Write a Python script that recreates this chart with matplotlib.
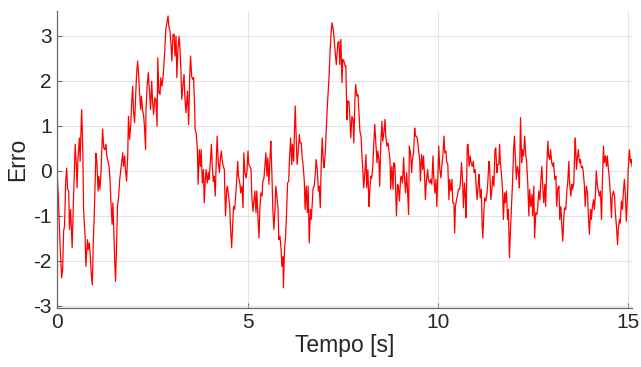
import matplotlib
matplotlib.use('Agg')
import matplotlib.pyplot as plt

# time [s] and error values
tempo = [
    0.00, 0.026, 0.07, 0.114, 0.14, 0.166, 0.19, 0.22, 0.245, 0.27, 0.30, 0.32, 0.35, 0.37, 0.39,
    0.42, 0.45, 0.47, 0.50, 0.52, 0.54, 0.58, 0.60, 0.62, 0.64, 0.67, 0.69, 0.73, 0.75, 0.79,
    0.81, 0.84, 0.87, 0.89, 0.92, 0.945, 0.97, 1.00, 1.015, 1.04, 1.07, 1.09, 1.12, 1.15, 1.17,
    1.19, 1.22, 1.25, 1.28, 1.30, 1.33, 1.36, 1.38, 1.41, 1.44, 1.46, 1.49, 1.51, 1.53, 1.56,
    1.58, 1.61, 1.64, 1.66, 1.69, 1.72, 1.74, 1.77, 1.79, 1.82, 1.85, 1.87, 1.90, 1.93, 1.95,
    1.98, 2.00, 2.03, 2.06, 2.08, 2.11, 2.14, 2.16, 2.19, 2.21, 2.24, 2.27, 2.29, 2.32,
    2.33, 2.36, 2.39, 2.43, 2.45, 2.48, 2.50, 2.53, 2.56, 2.59, 2.62, 2.64, 2.67, 2.70, 2.72,
    2.75, 2.78, 2.80, 2.83, 2.85, 2.88, 2.91, 2.93, 2.96, 2.99, 3.01, 3.04, 3.07, 3.09, 3.12,
    3.14, 3.17, 3.20, 3.22, 3.25, 3.27, 3.30, 3.33, 3.35, 3.38, 3.41, 3.42, 3.45, 3.48, 3.50,
    3.53, 3.56, 3.58, 3.61, 3.62, 3.65, 3.68, 3.70, 3.73, 3.76, 3.78, 3.81, 3.84, 3.86, 3.89,
    3.91, 3.94, 3.97, 3.99, 4.02, 4.05, 4.07, 4.10, 4.12, 4.15, 4.18, 4.20, 4.23, 4.26, 4.28,
    4.31, 4.33, 4.36, 4.39, 4.40, 4.42, 4.45, 4.47, 4.50, 4.53, 4.55, 4.58, 4.61, 4.63, 4.66,
    4.68, 4.71, 4.74, 4.76,
    4.80, 4.82, 4.85, 4.88, 4.90, 4.93, 4.96, 4.98, 5.01, 5.03, 5.06, 5.09, 5.11, 5.14, 5.17,
    5.19, 5.22, 5.24, 5.27, 5.30, 5.32, 5.35, 5.38, 5.40, 5.43, 5.45, 5.48, 5.51, 5.53, 5.56,
    5.59, 5.61, 5.64, 5.66, 5.69, 5.72, 5.74, 5.77, 5.80, 5.82, 5.85, 5.88, 5.90, 5.93, 5.94,
    5.97, 6.00, 6.02, 6.05, 6.08, 6.10, 6.13, 6.16, 6.18, 6.21, 6.23, 6.25, 6.28, 6.30, 6.33,
    6.36, 6.38, 6.41, 6.43, 6.46, 6.49, 6.51, 6.54, 6.57, 6.59, 6.62, 6.65, 6.67, 6.70, 6.72,
    6.75, 6.78, 6.80, 6.83, 6.86, 6.88, 6.91, 6.93, 6.96, 6.99, 7.01, 7.04, 7.07, 7.09, 7.12,
    7.14, 7.17, 7.20, 7.22, 7.25, 7.28, 7.30, 7.33,
    7.37, 7.40, 7.42, 7.45, 7.48, 7.50, 7.53, 7.56, 7.58, 7.61, 7.63, 7.66, 7.69, 7.71, 7.74,
    7.77, 7.79, 7.82, 7.84, 7.87, 7.90, 7.92, 7.95, 7.98, 8.00, 8.03, 8.05, 8.08, 8.11, 8.13,
    8.16, 8.19, 8.21, 8.24, 8.26, 8.29, 8.32, 8.34, 8.37, 8.40, 8.42, 8.45, 8.47, 8.50, 8.53,
    8.55, 8.58, 8.61, 8.63, 8.66, 8.69, 8.71, 8.74, 8.76, 8.79, 8.82, 8.84, 8.87, 8.89, 8.91,
    8.94, 8.96, 8.99, 9.02, 9.04, 9.07, 9.10, 9.12, 9.15, 9.18, 9.20, 9.23, 9.25, 9.28, 9.31,
    9.33, 9.36, 9.39, 9.41, 9.44, 9.46, 9.49, 9.52, 9.54, 9.57, 9.60, 9.62, 9.65, 9.67, 9.70,
    9.73, 9.75,
    9.79, 9.81, 9.84, 9.87, 9.89, 9.92, 9.95, 9.97, 10.00, 10.02, 10.05, 10.08, 10.10, 10.13,
    10.16, 10.18, 10.21, 10.23, 10.26, 10.29, 10.31, 10.34, 10.37, 10.39, 10.42, 10.44, 10.46,
    10.49, 10.51, 10.54, 10.57, 10.59, 10.62, 10.65, 10.67, 10.70, 10.72, 10.74, 10.77, 10.79,
    10.82, 10.85, 10.87, 10.90, 10.93, 10.95, 10.98, 11.00, 11.03, 11.06, 11.08, 11.11, 11.14,
    11.16, 11.18, 11.21, 11.23, 11.26, 11.29, 11.31, 11.34, 11.36, 11.39, 11.42, 11.44, 11.47,
    11.50, 11.52, 11.55, 11.57, 11.60, 11.62, 11.64, 11.67, 11.70, 11.72, 11.75, 11.77, 11.80,
    11.83, 11.85, 11.88, 11.91, 11.93, 11.96, 11.99, 12.01, 12.04, 12.06, 12.09, 12.12, 12.14,
    12.17, 12.20, 12.22, 12.25,
    12.28, 12.31, 12.33, 12.36, 12.39, 12.41, 12.44, 12.47, 12.49, 12.52, 12.54, 12.57, 12.60,
    12.62, 12.65, 12.68, 12.70, 12.73, 12.75, 12.78, 12.81, 12.83, 12.86, 12.89, 12.91, 12.94,
    12.96, 12.99, 13.02, 13.04, 13.07, 13.10, 13.12, 13.15, 13.18, 13.20, 13.23, 13.25, 13.28,
    13.31, 13.33, 13.36, 13.39, 13.41, 13.44, 13.46, 13.49, 13.52, 13.54, 13.57, 13.60, 13.61,
    13.64, 13.67, 13.69, 13.72, 13.74, 13.77, 13.80, 13.82, 13.85, 13.87, 13.90, 13.93, 13.95,
    13.98, 14.01, 14.03, 14.06, 14.09, 14.11, 14.14, 14.16, 14.19, 14.22, 14.24, 14.27, 14.30,
    14.32, 14.35, 14.37, 14.40, 14.43, 14.45, 14.48, 14.50, 14.53, 14.56, 14.58, 14.61, 14.64,
    14.66, 14.69, 14.72, 14.74, 14.77, 14.79, 14.82, 14.85, 14.87, 14.90, 14.93, 14.95, 14.98,
    15.00, 15.03, 15.06, 15.08, 15.10,
]

erro = [
    -0.12, -0.56, -1.60, -2.38, -2.19, -1.34, -1.23, -0.27, 0.06, -0.41, -0.45, -1.30, -0.86, -1.30, -1.71,
    -0.79, 0.03, 0.59, 0.10, -0.38, 0.25, 0.73, 0.21, 0.84, 1.36, 0.47, -0.86, -1.45, -2.12, -1.53,
    -1.75, -1.60, -1.93, -2.27, -2.53, -1.60, -1.00, -0.04, 0.39, 0.21, -0.45, -0.12, -0.41, 0.00, 0.47,
    0.93, 0.51, 0.47, 0.59, 0.33, 0.21, 0.10, -0.12, -0.71, -1.19, -0.71, -1.45, -2.04, -2.45, -1.60,
    -0.79, -0.60, -0.19, -0.04, 0.18, 0.40, 0.10, 0.33, 0.03, -0.23, 0.33, 1.21, 0.70, 1.03, 1.44,
    1.88, 1.36, 1.07, 1.66, 2.10, 2.44, 2.10, 1.73, 1.36, 1.66, 1.36, 1.21, 0.99, 0.47,
    1.36, 1.88, 2.18, 1.66, 1.36, 1.99, 1.59, 1.25, 1.62, 1.59, 0.99, 2.51, 1.73, 1.70, 2.07,
    1.88, 2.10, 2.33, 2.77, 3.14, 3.29, 3.44, 3.21, 3.10, 2.77, 2.44, 3.03, 3.03, 2.55, 2.99,
    2.07, 2.70, 2.99, 2.77, 2.18, 1.59, 1.88, 2.14, 1.66, 1.29, 1.66, 1.77, 1.03, 2.10, 2.55,
    2.10, 2.03, 2.07, 1.36, 0.92, 0.84, 0.47, -0.30, 0.47, 0.10, 0.47, -0.27, 0.03, -0.71, -0.19,
    0.03, -0.27, -0.04, -0.19, 0.18, 0.59, 0.10, -0.23, -0.12, -0.56, 0.33, 0.77, 0.18, -0.04, 0.25,
    0.44, 0.25, 0.10, 0.03, -0.41, -1.00, -0.41, -0.34, -0.56, -0.79, -1.23, -1.71, -1.16, -0.79, -0.86,
    -0.64, -0.27, 0.21, -0.12,
    -0.30, -0.49, -0.34, -0.82, 0.40, -0.04, -0.16, -0.04, 0.44, 0.14, 0.10, 0.03, -0.56, -0.90, -0.64,
    -0.45, -0.93, -0.45, -1.00, -1.49, -0.86, -0.49, -0.56, -0.23, -0.16, 0.07, 0.40, -0.12, 0.29, -0.30,
    0.33, 0.66, -0.12, -0.79, -1.30, -0.86, -0.34, -0.56, -0.86, -1.53, -1.45, -1.75, -2.12, -1.90, -2.60,
    -1.75, -1.41, -1.00, -0.27, -0.23, 0.25, 0.73, 0.14, 0.59, 0.21, 0.84, 1.44, 0.62, 0.14, 0.44,
    0.81, 0.62, 0.62, 0.33, 0.10, -0.23, -0.86, -0.34, -0.93, -0.34, -1.60, -0.86, -1.08, -0.71, -0.38,
    -0.34, -0.04, 0.25, 0.03, -0.45, -0.34, -0.82, 0.03, 0.73, 0.21, 0.07, 0.40, 0.99, 1.36, 1.81,
    2.10, 2.70, 3.14, 3.29, 3.14, 2.84, 2.62, 2.36,
    2.84, 2.88, 2.36, 2.92, 1.96, 2.48, 2.44, 2.33, 2.33, 1.14, 1.55, 1.55, 1.14, 0.73, 1.21,
    1.14, 0.62, 1.59, 1.92, 1.66, 1.70, 1.36, 0.88, 0.77, 0.40, -0.04, -0.38, -0.04, 0.36, -0.38,
    0.03, -0.79, -0.45, -0.12, -0.16, 0.10, 0.70, 1.03, 0.62, 0.18, 0.44, 0.25, -0.34, 0.62, 1.10,
    0.66, 0.84, 1.14, 0.77, 0.55, 0.62, 0.47, 0.25, -0.41, 0.10, -0.41, 0.18, 0.14, -0.41, -1.00,
    -0.30, -0.34, -0.67, -0.16, -0.12, -0.27, 0.29, -0.12, -0.49, -0.04, -0.41, -0.97, 0.55, 0.40, -0.04,
    0.25, 0.40, 0.95, 0.77, 0.77, 0.70, 0.47, 0.25, -0.23, 0.36, 0.03, 0.33, -0.12, -0.64, -0.19,
    0.03, -0.19,
    -0.27, -0.19, -0.30, 0.33, -0.12, -0.49, -0.19, -0.79, -0.12, 0.55, 0.03, -0.16, 0.10, 0.33,
    0.77, 0.40, 0.44, 0.21, 0.14, -0.64, -0.19, -0.45, -0.19, -0.71, -0.71, -1.38, -0.79,
    -0.64, -0.56, -0.41, -0.41, -0.27, 0.18, -0.27, -0.82, -0.27, -0.56, -1.04, 0.55, 0.59,
    0.10, 0.33, 0.18, 0.10, 0.21, -0.04, 0.03, -0.27, -0.64, -0.27, -0.08, -0.60, -0.41,
    -1.16, -1.49, -0.86, -0.60, -0.67, -0.49, -0.27, 0.21, 0.10, -0.64, -0.41, -0.12, -0.34,
    0.47, 0.51, -0.04, 0.14, 0.14, 0.59, 0.18, -0.08, -0.45, -1.08, -0.49, -0.71, -0.45,
    -1.08, -0.86, -1.93, -1.23, -0.86, -0.27, 0.47, 0.77, 0.18, -0.19, 0.10, -0.04, -0.38,
    1.18, 0.18, 0.47, 0.33,
    0.77, 0.33, 0.21, -0.27, -1.00, -0.41, -0.79, -0.53, -1.00, -0.34, -1.49, -0.93, -0.97,
    -0.86, -0.45, -0.64, -0.27, 0.10, -0.27, -0.71, -0.30, -0.79, 0.10, 0.66, 0.33, 0.25,
    0.47, 0.18, 0.10, 0.18, -0.19, -0.12, -0.79, -0.38, -0.34, -1.08, -0.79, -1.16, -1.56,
    -1.00, -0.82, -0.86, -0.41, -0.27, 0.21, -0.27, -0.56, -0.30, -0.41, -0.27, 0.62, 0.73,
    0.03, 0.33, 0.47, 0.18, 0.25, 0.07, 0.10, -0.04, -0.34, -0.79, -0.34, -0.49, -0.93,
    -1.41, -0.86, -1.08, -0.79, -0.64, -0.86, -0.53, 0.00, -0.34, -0.45, -0.56, -0.45, -1.08,
    -0.27, 0.55, 0.18, 0.33, 0.10, 0.33, 0.03, -0.12, -0.49, -1.04, -0.56, -0.45, -0.56,
    -0.90, -1.23, -1.64, -1.30, -1.08, -1.16, -0.67, -0.86, -0.49, -0.19, -0.64, -1.12, -0.56,
    0.03, 0.47, 0.18, 0.25, 0.10,
]

x_ticks = [0, 5, 10, 15]
y_ticks = [-3, -2, -1, 0, 1, 2, 3]

plt.rcParams['font.family'] = ['Liberation Sans', 'DejaVu Sans']
plt.rcParams['axes.unicode_minus'] = False

fig = plt.figure(figsize=(6.41, 3.67), dpi=100)
ax = fig.add_axes([0.0894, 0.1616, 0.8966, 0.8084])

ax.plot(tempo, erro, color='#ff0000', linewidth=0.9)

ax.set_xlim(0, 15.1)
ax.set_ylim(-3.04, 3.55)
ax.set_xticks(x_ticks)
ax.set_yticks(y_ticks)
ax.grid(True, color='#e3e3e3', linewidth=0.8)
ax.set_axisbelow(True)

for side in ['top', 'right']:
    ax.spines[side].set_visible(False)
for side in ['left', 'bottom']:
    ax.spines[side].set_color('#6a6a6a')
    ax.spines[side].set_linewidth(0.9)

ax.tick_params(direction='in', length=3.5, width=0.8, color='#6a6a6a',
               labelsize=15, labelcolor='#262626', pad=4)

ax.set_xlabel('Tempo [s]', fontsize=16.5, color='#262626', labelpad=1)
ax.set_ylabel('Erro', fontsize=16.5, color='#262626', labelpad=3)

fig.savefig('out.png', dpi=100)
